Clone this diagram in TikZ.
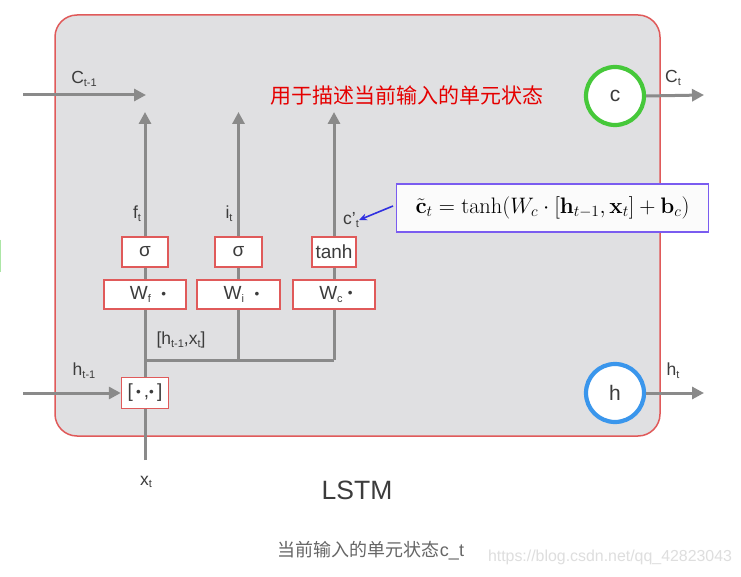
\documentclass[tikz,border=0pt]{standalone}
\usepackage{amsmath}
\usepackage[no-math]{fontspec}
\setmainfont{Liberation Sans}
\newfontfamily\cjk{Noto Sans CJK SC}
\usetikzlibrary{arrows.meta}
\definecolor{boxfill}{HTML}{E0E0E2}
\definecolor{boxred}{HTML}{E05A5A}
\definecolor{flow}{HTML}{8A8A8A}
\definecolor{lbl}{HTML}{3C3C3C}
\definecolor{cgreen}{HTML}{46C83A}
\definecolor{hblue}{HTML}{3A96EC}
\definecolor{fpurple}{HTML}{7A5CF0}
\definecolor{barrow}{HTML}{3030E0}
\newcommand{\lsub}[1]{\raisebox{-0.3ex}{\fontsize{11}{11}\selectfont #1}}
\newcommand{\bdot}{\raisebox{0.35ex}{\scalebox{0.55}{$\bullet$}}}
\tikzset{
  flowarrow/.style={draw=flow, line width=3pt, -{Triangle[length=12pt,width=12pt]}},
  flowline/.style={draw=flow, line width=3pt},
  opbox/.style={draw=boxred, line width=1.4pt, fill=white, text=lbl, inner sep=0pt,
     font=\fontsize{19}{21}\selectfont},
  lab/.style={text=lbl, inner sep=0pt, font=\fontsize{17.5}{19}\selectfont},
  state/.style={circle, fill=white, line width=4.2pt, minimum size=58pt, inner sep=0pt,
     text=lbl, font=\fontsize{21}{23}\selectfont},
}
\begin{document}
\begin{tikzpicture}[x=1pt,y=-1pt]
\useasboundingbox (0,0) rectangle (741,577);
\fill[white] (0,0) rectangle (741,577);
% faint green mark at left edge
\draw[cgreen!45, line width=1.2pt] (0.6,240) -- (0.6,272);
% main cell
\draw[boxred, line width=1.5pt, fill=boxfill, rounded corners=22pt] (55,15) rectangle (660,436);

% coordinates
\coordinate (cin) at (23,95);
\coordinate (ctip) at (146,95);
\coordinate (ftip) at (145,112);
\coordinate (itip) at (238.5,112);
\coordinate (ttip) at (334,112);
\coordinate (j1) at (145,360);
\coordinate (j2) at (238.5,360);
\coordinate (j3) at (334,360);
\coordinate (hin) at (23,393);
\coordinate (xin) at (145,460);
\coordinate (cout) at (704,95);
\coordinate (hout) at (704,393);

% operation boxes
\node[opbox, minimum width=46pt, minimum height=30pt] (sf) at (145,252) {σ};
\node[opbox, minimum width=47pt, minimum height=30pt] (si) at (238.5,252) {σ};
\node[opbox, minimum width=44pt, minimum height=30pt] (th) at (334,252) {tanh};
\node[opbox, minimum width=82pt, minimum height=29pt] (wf) at (145,294.5) {\hspace{6pt}W\lsub{f}\ \ \bdot};
\node[opbox, minimum width=83pt, minimum height=29pt] (wi) at (238.5,294.5) {\hspace{6pt}W\lsub{i}\ \ \bdot};
\node[opbox, minimum width=82pt, minimum height=29pt] (wc) at (334,294.5) {\hspace{4pt}W\lsub{c}\ \bdot};
\node[opbox, minimum width=47pt, minimum height=31pt] (cat) at (145,393) {[\,\bdot\,,\bdot\,]};

% state circles
\node[state, draw=cgreen] (c) at (615,96) {c};
\node[state, draw=hblue] (h) at (615,393) {h};

% connectors
\draw[flowarrow] (cin) -- (ctip);
\draw[flowarrow] (sf.north) -- (ftip);
\draw[flowarrow] (si.north) -- (itip);
\draw[flowarrow] (th.north) -- (ttip);
\draw[flowline] (wf.north) -- (sf.south);
\draw[flowline] (wi.north) -- (si.south);
\draw[flowline] (wc.north) -- (th.south);
\draw[flowline] (j1) -- (wf.south);
\draw[flowline] (j2) -- (wi.south);
\draw[flowline] (j3) -- (wc.south);
\draw[flowline] (j1) -- (j3);
\draw[flowline] (cat.north) -- (j1);
\draw[flowline] (xin) -- (cat.south);
\draw[flowarrow] (hin) -- (cat.west);
\draw[flowarrow] (c.east) -- (cout);
\draw[flowarrow] (h.east) -- (hout);

% labels
\node[lab] (lc1) at (84,79) {C\lsub{t-1}};
\node[lab] (lf) at (137,214) {f\lsub{t}};
\node[lab] (li) at (229,214) {i\lsub{t}};
\node[lab] (lcp) at (351,220) {c'\lsub{t}};
\node[lab] (lhx) at (181,340) {[h\lsub{t-1},x\lsub{t}]};
\node[lab] (lh1) at (84,371) {h\lsub{t-1}};
\node[lab] (lx) at (146,482) {x\lsub{t}};
\node[lab] (lct) at (673,78) {C\lsub{t}};
\node[lab] (lht) at (673,371) {h\lsub{t}};

% red annotation
\node[text=red!90!black, inner sep=0pt, font=\cjk\fontsize{21}{24}\selectfont] (note) at (407,96) {用于描述当前输入的单元状态};

% formula box
\node[draw=fpurple, line width=1.8pt, fill=white!97!gray, minimum width=312pt, minimum height=48pt,
      inner sep=0pt, font=\fontsize{20}{24}\selectfont] (form) at (552.5,208)
  {\scalebox{1.08}{$\tilde{\mathbf{c}}_t = \tanh(W_c \cdot [\mathbf{h}_{t-1}, \mathbf{x}_t] + \mathbf{b}_c)$}};
\coordinate (fa) at (393,206);
\draw[barrow, line width=1.6pt, -{Stealth[length=8pt,width=7pt]}] (fa) -- (lcp.east);

% titles
\node[text=lbl, inner sep=0pt, font=\fontsize{26.5}{29}\selectfont] (lstm) at (357,490) {LSTM};
\node[text=black!60, inner sep=0pt, font=\fontsize{18}{20}\selectfont] (cap) at (371,551) {{\cjk 当前输入的单元状态}c\_t};
\node[text=black!13, inner sep=0pt, font=\fontsize{15.9}{18}\selectfont] (wm) at (610,557) {https://blog.csdn.net/qq\_42823043};
\end{tikzpicture}
\end{document}
